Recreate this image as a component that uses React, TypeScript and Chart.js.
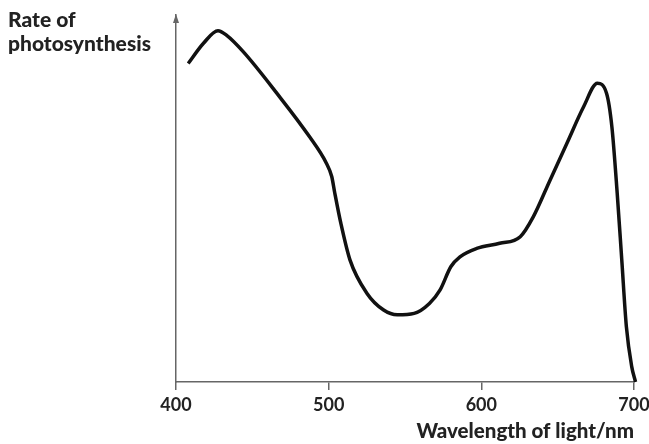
import React, { useEffect, useRef } from "react";
import { Chart, registerables } from "chart.js";

Chart.register(...registerables);

const wavelengths = [408, 418, 427.5, 433, 444, 466, 487.5, 498.5, 502, 504, 508, 514, 525, 536, 545, 556, 566, 573, 580, 586, 597, 612, 625.5, 634, 645, 656, 667, 676, 682, 685.5, 689, 692, 695, 698.5, 701];
const rates = [86.8, 92.3, 95.7, 94.5, 90.0, 78.7, 66.8, 59.6, 56.0, 51.5, 43.2, 33.2, 24.2, 19.6, 18.3, 18.7, 21.4, 25.1, 31.4, 34.1, 36.4, 37.8, 39.6, 45.0, 55.0, 65.0, 75.0, 81.4, 78.7, 69.6, 51.4, 33.2, 15.1, 4.2, 0];
const xTicks = [400, 500, 600, 700];
const xTitle = "Wavelength of light/nm";
const yTitleLines = ["Rate of", "photosynthesis"];

const FONT = "Lato, 'Open Sans', sans-serif";
const TEXT = "#222";
const AXIS = "#666";

const overlayPlugin = {
  id: "overlay",
  afterDraw(chart: any) {
    const ctx = chart.ctx;
    const x = chart.scales.x.left;
    const top = chart.chartArea.top;
    ctx.save();
    ctx.fillStyle = AXIS;
    ctx.beginPath();
    ctx.moveTo(x, top - 1);
    ctx.lineTo(x - 3, top + 8);
    ctx.lineTo(x + 3, top + 8);
    ctx.closePath();
    ctx.fill();
    ctx.fillStyle = TEXT;
    ctx.font = `900 21px ${FONT}`;
    ctx.textBaseline = "alphabetic";
    ctx.textAlign = "left";
    ctx.fillText(yTitleLines[0], 8, 27);
    ctx.fillText(yTitleLines[1], 8, 51);
    ctx.restore();
  },
};

export default function App() {
  const ref = useRef<HTMLCanvasElement>(null);
  useEffect(() => {
    if (!ref.current) return;
    const chart = new Chart(ref.current, {
      type: "line",
      data: {
        datasets: [
          {
            data: wavelengths.map((w, i) => ({ x: w, y: rates[i] })),
            borderColor: "#111",
            borderWidth: 3.5,
            pointRadius: 0,
            cubicInterpolationMode: "monotone",
            fill: false,
            clip: false as any,
          },
        ],
      },
      options: {
        animation: false,
        responsive: false,
        layout: { padding: { left: 176, right: 15, top: 15, bottom: 0 } },
        plugins: { legend: { display: false }, tooltip: { enabled: false }, title: { display: false } },
        scales: {
          x: {
            type: "linear",
            min: 400,
            max: 700,
            afterBuildTicks: (scale: any) => {
              scale.ticks = xTicks.map((v) => ({ value: v }));
            },
            afterFit: (scale: any) => {
              scale.height = 62;
              scale.paddingLeft = 0;
              scale.paddingRight = 0;
            },
            ticks: {
              color: TEXT,
              font: { family: FONT, size: 18, weight: "bold" },
              padding: 4,
              maxRotation: 0,
            },
            grid: { drawOnChartArea: false, tickLength: 8, color: AXIS, lineWidth: 1.5 },
            border: { display: true, color: AXIS, width: 1.5 },
            title: {
              display: true,
              text: xTitle,
              align: "end",
              color: TEXT,
              font: { family: FONT, size: 20.5, weight: "900" },
              padding: { top: 0, bottom: 0 },
            },
          },
          y: {
            min: 0,
            max: 100,
            afterFit: (scale: any) => {
              scale.width = 0;
            },
            ticks: { display: false },
            grid: { display: false },
            border: { display: true, color: AXIS, width: 1.5 },
          },
        },
      },
      plugins: [overlayPlugin],
    } as any);
    return () => chart.destroy();
  }, []);
  return (
    <div style={{ position: "fixed", left: 0, top: 0, width: 649, height: 444, background: "#fff" }}>
      <canvas ref={ref} width={649} height={444} />
    </div>
  );
}
